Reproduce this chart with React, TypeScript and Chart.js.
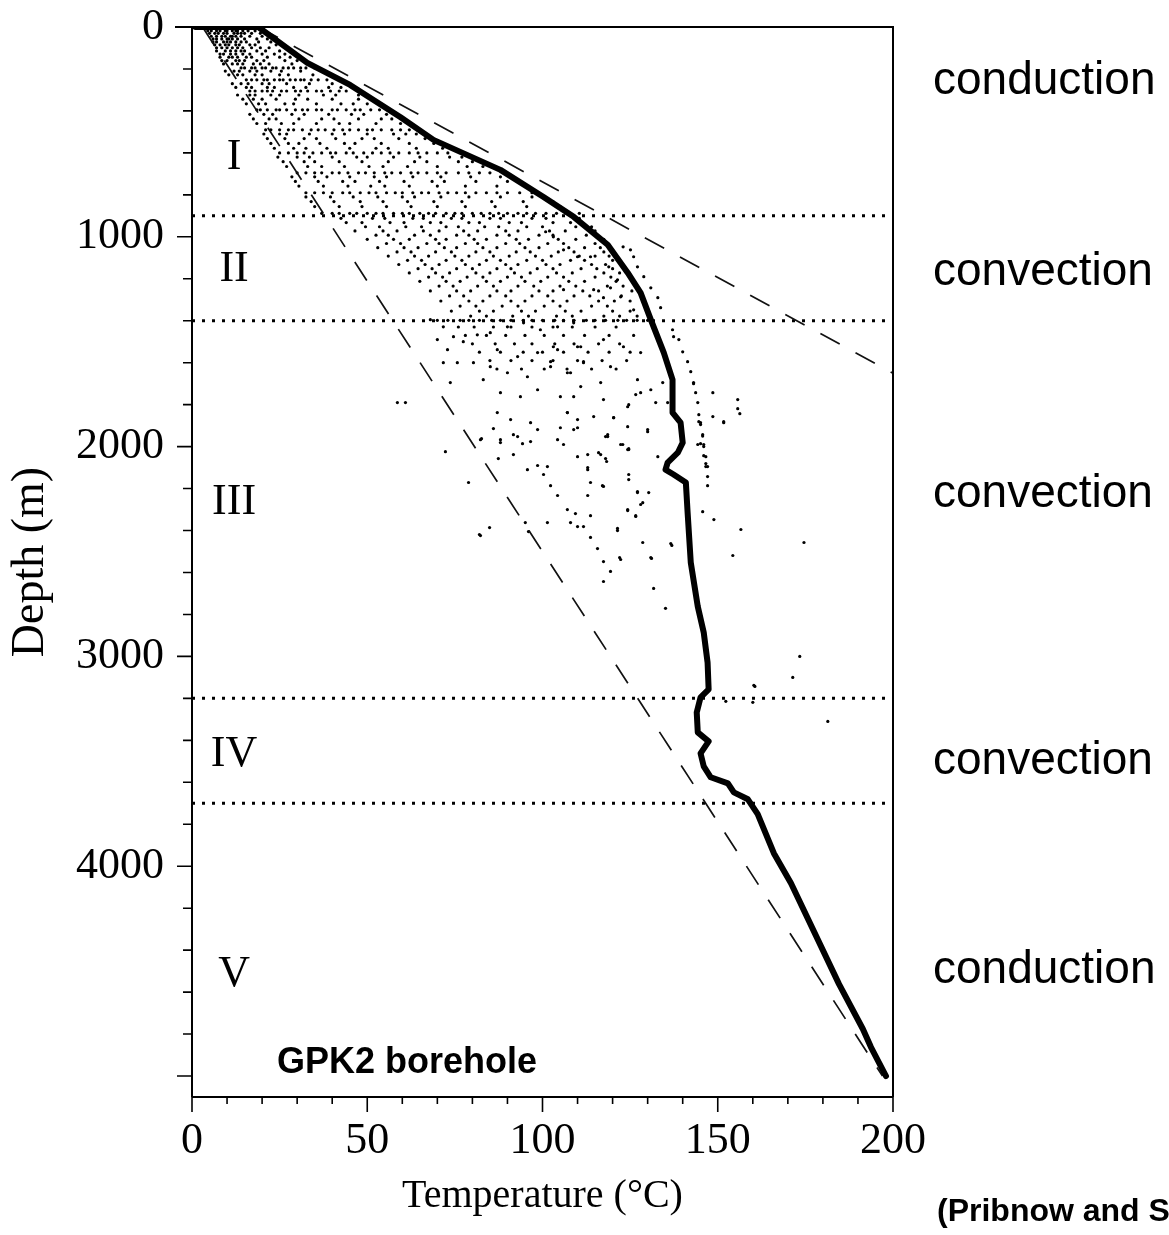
import React, { useEffect, useRef } from 'react';
import { Chart, registerables } from 'chart.js';

Chart.register(...registerables);

// ---------- data ----------
const X_LABELED_TICKS = [0, 50, 100, 150, 200];
const Y_LABELED_TICKS = [0, 1000, 2000, 3000, 4000, 5000];
const ZONE_BOUNDARY_DEPTHS = [900, 1400, 3200, 3700];
const ZONE_NAMES = ['I', 'II', 'III', 'IV', 'V'];
const ZONE_NAME_DEPTHS = [620, 1157, 2267, 3467, 4514];
const ZONE_NAME_TEMP = 12;
const HEAT_MODES = ['conduction', 'convection', 'convection', 'convection', 'conduction'];

// measured temperature log (°C) vs depth (m)
const profileTemp = [1, 18.9, 32.9, 45.1, 59.4, 68.9, 88.0, 100.3, 108.9, 118.6, 124.3, 128.0, 130.9, 134.6, 137.1, 137.1, 139.4, 140.0, 138.6, 135.7, 135.1, 137.4, 140.9, 141.4, 142.3, 144.3, 146.0, 147.1, 147.4, 145.1, 144.0, 144.3, 147.4, 145.1, 146.0, 148.0, 152.9, 154.6, 158.6, 161.4, 166.0, 170.9, 184.6, 191.4, 193.7, 198.0];
const profileDepth = [0, 0, 171, 276, 429, 538, 681, 810, 905, 1038, 1171, 1267, 1395, 1552, 1681, 1838, 1886, 1981, 2029, 2076, 2110, 2133, 2171, 2314, 2552, 2762, 2886, 3029, 3157, 3195, 3267, 3362, 3405, 3462, 3524, 3576, 3605, 3648, 3681, 3752, 3938, 4081, 4562, 4776, 4862, 5000];

// conductive gradients (dashed)
const upperGradientTemp = [19, 200];
const upperGradientDepth = [0, 1650];
const lowerGradientTemp = [3, 197];
const lowerGradientDepth = [0, 5000];

// scattered temperature measurements, rows of [depth, temperatures]
const scatterRows: [number, number[]][] = [
  [6, [3.5, 5, 6, 7.5, 8, 9, 10.5, 11, 12, 13.5, 14, 15, 16.5, 17.5]],
  [18, [4.5, 5.5, 7, 8, 9.5, 10, 11.5, 12.5, 13, 14.5, 16, 18]],
  [30, [5, 6.5, 7.5, 9, 10, 12, 13, 14, 15, 17, 19.5]],
  [44, [5.5, 7, 8.5, 9.5, 11, 11.5, 12.5, 14, 16.5, 20]],
  [57, [6, 7, 8.5, 10, 10.5, 11.5, 13, 15, 18.5, 21.5]],
  [71, [6, 7, 9, 10, 11, 12.5, 14, 15.5, 19, 22.5]],
  [85, [6.5, 8, 9.5, 10.5, 12.5, 13.5, 16.5, 18, 24]],
  [99, [7, 8.5, 10, 11.5, 13, 14.5, 17, 19.5, 22]],
  [114, [7, 9.5, 11, 12.5, 14, 15, 18.5, 21, 25]],
  [129, [8, 9, 11, 12.5, 14.5, 16.5, 20, 23.5, 26.5]],
  [144, [8, 10.5, 11.5, 13, 15.5, 17, 21.5, 25, 28]],
  [160, [8.5, 10, 12.5, 13.5, 15, 18.5, 20.5, 26.5, 30]],
  [176, [9, 11.5, 13, 14.5, 17.5, 19.5, 22, 28.5]],
  [195, [14, 15, 17, 18, 20, 21, 23, 24, 26, 27.5, 29, 31, 32.5, 35]],
  [210, [9.5, 12, 13.5, 16.5, 18.5, 22.5, 25.5, 31]],
  [228, [10.5, 13, 14.5, 18, 20, 25, 27.5, 34.5]],
  [252, [15.5, 17, 18.5, 20.5, 21.5, 23.5, 25, 26, 28, 29.5, 31, 32, 34, 36, 38.5]],
  [270, [11.5, 14, 16, 20, 22, 27, 33.5, 40]],
  [288, [12.5, 15.5, 17, 21.5, 23.5, 29, 32.5, 39, 42.5]],
  [305, [16.5, 18, 20, 21.5, 23, 25.5, 27, 29.5, 31, 33, 35.5, 37, 39.5, 42, 44]],
  [324, [13, 16.5, 18, 22.5, 25, 30.5, 37.5, 41, 47.5]],
  [344, [14.5, 17.5, 20, 24, 29.5, 33, 40, 47.5]],
  [366, [15.5, 19, 21, 26.5, 29, 35.5, 42.5, 46, 50]],
  [395, [18.5, 19.5, 21.5, 24, 25, 27, 29.5, 31.5, 33, 35.5, 37, 40, 41.5, 44, 46.5, 48, 51, 53.5]],
  [416, [16.5, 20.5, 23, 28.5, 32, 39, 45.5, 49, 55.5]],
  [438, [17.5, 22, 24, 30.5, 37, 40.5, 47.5, 54, 57]],
  [460, [18.5, 21, 25.5, 29, 35.5, 42, 45, 52.5, 59.5]],
  [490, [21, 22.5, 25, 27.5, 29, 31.5, 34, 36, 38, 40.5, 43, 45, 47.5, 50, 51.5, 54, 57, 59.5, 62]],
  [510, [20.5, 25, 27, 33.5, 40, 43.5, 50, 57.5, 61, 64]],
  [532, [21.5, 26.5, 32, 35.5, 41, 48.5, 52, 59, 66.5]],
  [555, [22.5, 27.5, 30.5, 36.5, 43.5, 46.5, 54, 62, 69]],
  [578, [23.5, 29, 32.5, 38.5, 45, 52.5, 56, 64, 71.5]],
  [600, [25, 27.5, 30, 32, 34.5, 37, 39.5, 41, 44, 46, 49, 51.5, 54, 56.5, 59, 62, 64.5, 67, 70, 73]],
  [620, [24.5, 30, 33.5, 40, 47, 50, 57.5, 65, 73.5, 77]],
  [642, [26, 32, 35, 42, 48.5, 56, 63.5, 67, 76, 80]],
  [665, [27, 33, 37, 43.5, 50.5, 54.5, 61.5, 70, 78.5, 83]],
  [695, [30, 32.5, 35, 37, 40, 42, 44.5, 47.5, 49.5, 52, 55, 57, 59.5, 62.5, 64.5, 67, 70, 72.5, 76, 79, 82, 85]],
  [714, [28.5, 35, 38.5, 45, 52, 55.5, 63, 71, 79.5, 88]],
  [736, [29.5, 36, 43, 46.5, 53.5, 60.5, 68.5, 72, 81, 90]],
  [758, [30.5, 37.5, 44.5, 51, 55, 62, 70, 78, 87, 95.5]],
  [790, [32.5, 35, 37.5, 40, 43, 45, 48, 50.5, 52.5, 55.5, 58, 60, 63, 65.5, 67.5, 70.5, 73, 75.5, 78, 81, 84, 87, 90, 93.5, 97]],
  [810, [32.5, 39.5, 46, 53, 60, 63.5, 71, 79, 88, 97]],
  [832, [34, 40.5, 48, 54.5, 61.5, 69, 77, 85.5, 94.5, 103]],
  [856, [35, 42, 48.5, 55.5, 62.5, 70, 78, 86.5, 95.5, 105]],
  [888, [37, 40, 42, 45, 47, 50, 52.5, 54.5, 57.5, 60, 62, 65, 67.5, 69.5, 72.5, 75, 77, 80, 82.5, 85, 87.5, 90, 93, 95.5, 98, 101, 104, 107, 110.5]],
  [912, [42.5, 51.5, 55, 63, 66, 74, 77, 85, 88, 97, 101, 110.5]],
  [932, [44, 48.5, 56.5, 60.5, 68, 71, 79, 82, 90.5, 94, 103, 108]],
  [952, [49.5, 53.5, 61, 65.5, 72.5, 76, 83.5, 87.5, 95.5, 100, 109.5, 114]],
  [972, [46.5, 54.5, 58.5, 66, 70.5, 77.5, 81.5, 89.5, 93, 102, 106.5, 115]],
  [992, [52.5, 56, 63.5, 68, 75.5, 79, 87, 90.5, 99, 103, 112.5]],
  [1012, [50, 57.5, 62, 69.5, 72.5, 80.5, 84, 92.5, 96, 104.5, 109.5, 117.5]],
  [1032, [55.5, 59.5, 67, 70.5, 78, 81.5, 89.5, 93.5, 101.5, 106, 115]],
  [1052, [53, 60.5, 64.5, 72, 75.5, 83, 87, 95, 99, 107.5, 112, 116.5]],
  [1072, [58.5, 62.5, 69.5, 74, 81, 85, 92.5, 96.5, 104.5, 109, 117.5]],
  [1092, [56, 63.5, 67.5, 75, 79, 86, 90.5, 98, 102.5, 110.5, 115, 119]],
  [1112, [61.5, 65.5, 72.5, 77, 84, 88, 95.5, 100, 108, 112, 120]],
  [1132, [59, 66.5, 70.5, 78, 82, 89.5, 93, 101, 105, 114, 118]],
  [1152, [64.5, 68.5, 75.5, 80, 87, 91, 98.5, 103, 111, 115.5, 120]],
  [1172, [62, 69.5, 73.5, 81, 85, 92, 96.5, 104, 108.5, 117.5, 122]],
  [1192, [67.5, 71.5, 78.5, 83, 90, 94, 101.5, 106, 115, 119.5]],
  [1212, [65, 72.5, 76.5, 84, 88, 95, 99.5, 107.5, 112, 121]],
  [1235, [70.5, 74.5, 81.5, 86, 93, 97.5, 105, 109.5, 118.5, 123]],
  [1258, [68, 75.5, 79.5, 87, 91, 99, 103, 111.5, 116, 125.5]],
  [1282, [73.5, 77.5, 85, 89.5, 97, 101.5, 109, 113.5, 122.5]],
  [1306, [71, 79, 83, 91, 95, 103, 107, 116, 120.5, 125]],
  [1330, [76.5, 81, 88.5, 93, 100.5, 105, 114, 118.5]],
  [1354, [74, 82, 86, 94, 98, 106.5, 111, 120, 125]],
  [1378, [79.5, 84, 91.5, 96, 104, 108.5, 117.5, 122, 127]],
  [1398, [70, 73, 76.5, 79, 82, 85.5, 88, 91, 94.5, 97, 100, 103.5, 106, 109, 112.5, 115, 118, 121.5, 124, 127, 130]],
  [1430, [76, 80.5, 86, 91, 97, 103, 108.5, 115, 121]],
  [1470, [78, 84, 89.5, 95, 100.5, 106, 112, 119, 126]],
  [1510, [80, 86.5, 92, 97, 103.5, 109, 116, 122]],
  [1550, [82, 88, 94.5, 100, 106, 113, 119, 125]],
  [1590, [85, 91, 97, 103, 110, 117, 124]],
  [1630, [87, 94, 100.5, 107, 114, 121]],
];

// individual scattered measurements [temperature, depth]
const scatterPoints: [number, number][] = [
  [68, 1395], [71.7, 1429], [74.6, 1476], [70, 1490], [72.9, 1538], [77.4, 1500], [81.4, 1467], [85.1, 1457],
  [90, 1429], [94.6, 1410], [99.4, 1443], [104.3, 1429], [108.9, 1410], [87.1, 1538], [92.9, 1571], [98.6, 1552],
  [104.3, 1538], [110, 1524], [71.7, 1600], [75.7, 1600], [80.3, 1600], [85.1, 1619], [90, 1648], [95.7, 1667],
  [102.3, 1619], [108, 1648], [111.7, 1600], [73.7, 1695], [83.1, 1681], [88, 1743], [93.7, 1762], [98.6, 1729],
  [105.1, 1762], [110.9, 1714], [58.6, 1790], [60.9, 1790], [87.1, 1838], [90.9, 1871], [96.6, 1886], [107.1, 1838],
  [110, 1871], [82.3, 1967], [88, 1981], [92.9, 1952], [98.6, 1919], [104.3, 1967], [108.9, 1919],
  [100.9, 976], [103.1, 1000], [106, 1062], [110, 1095], [113.7, 1095], [118.9, 1143], [121.4, 1205], [106, 1252],
  [114.6, 1252], [119.4, 1243], [117.4, 1290], [122.3, 1286], [126, 1348], [103.1, 1524], [110.9, 1524], [117.4, 1490],
  [123.1, 1524], [128, 1552], [102.3, 1595], [111.7, 1595], [119.4, 1619], [107.1, 1648], [116.6, 1695], [127.1, 1681],
  [108.9, 1762], [117.4, 1776], [130.9, 1729], [124.3, 1810], [107.1, 1838], [114.6, 1857], [120.3, 1862], [105.1, 1910],
  [110, 1910], [118.6, 1952], [130, 1919], [122.3, 1990], [106, 1990], [112.9, 2038], [116.6, 2038], [124.3, 2014],
  [132.9, 2048], [101.4, 2095], [110, 2048], [112.9, 2110], [124.6, 2133],
  [120.3, 1862], [118, 1952], [122.9, 1990], [124.6, 2014], [118.3, 2071], [130, 1929], [126.6, 1752], [124.6, 1800],
  [128, 1743], [132.3, 1790], [135.7, 1790], [134.3, 1695], [143.1, 1695], [143.7, 1743], [148.6, 1743], [144.3, 1790],
  [144.6, 1848], [145.1, 1895], [145.7, 1943], [144.3, 1990], [146, 1990], [146, 2043], [146.6, 2095], [147.1, 2143],
  [147.1, 2186], [148.6, 1857], [151.7, 1886], [155.7, 1776], [155.7, 1819], [156.3, 1843], [124.6, 2157], [117.4, 2190],
  [127.1, 2219], [130.3, 2219], [128, 2276], [124.3, 2305], [126.6, 2333], [145.7, 2310], [148.9, 2348], [156.6, 2395],
  [121.4, 2400], [128.6, 2457], [136.9, 2471], [154.3, 2519], [174.6, 2457], [117.4, 2548], [122.3, 2538], [131.1, 2533],
  [119.4, 2595], [117.4, 2643], [131.7, 2676], [135.1, 2771], [173.4, 3000], [171.4, 3100], [160.6, 3143], [152.3, 3214],
  [160, 3219], [181.4, 3310],
  [72.3, 2024], [78.9, 2171], [82, 2419], [84.9, 2386], [82.6, 1962], [86, 1914], [88, 1967], [91.7, 1943], [94.3, 1986],
  [96.6, 1976], [87.4, 2057], [91.7, 2038], [95.7, 2110], [98.6, 2090], [100.3, 2133], [102.3, 2186], [104.3, 2233],
  [107.1, 2300], [109.4, 2319], [110, 2381], [111.7, 2381], [113.7, 2329], [112.9, 2233], [112.9, 2100], [113.7, 2171],
  [117.1, 2186], [116, 2029], [118, 2057], [118.6, 1943], [113.7, 2433], [115.7, 2486], [122, 2529], [121.4, 2390],
  [124.3, 2300], [126.6, 2329], [128.6, 2267], [127.1, 2214], [124.6, 2010], [124.3, 1905], [130.9, 2529], [136.6, 2462],
  [145.1, 1986], [146.6, 2081], [144.6, 1881], [151.7, 1881], [160.3, 3138], [82.3, 2424], [95.1, 2362], [96, 2405],
  [101.4, 2362], [108, 2362],
  [126, 1095], [127.1, 1143], [128.9, 1190], [130.9, 1243], [132.9, 1290], [133.7, 1338], [137.1, 1443], [137.4, 1476],
  [138.9, 1490], [140, 1548], [141.4, 1595], [142.3, 1643], [143.1, 1700], [145.1, 1886], [145.7, 1950], [146, 2000],
  [146.6, 2048], [147.1, 2095], [123, 1048], [125.1, 1062],
];

// ---------- layout constants (pixels) ----------
const W = 1169;
const H = 1235;
const PLOT_LEFT = 192;
const PLOT_RIGHT = 893;
const PLOT_TOP = 27;
const PLOT_BOTTOM = 1097;
const MODE_LABEL_CENTERS = [77, 268, 490, 757, 966];

const SERIF = '"Liberation Serif", "Times New Roman", Times, serif';
const SANS = '"Liberation Sans", Arial, Helvetica, sans-serif';

const framePlugin = {
  id: 'frame',
  afterDatasetsDraw(chart: any) {
    const { ctx, chartArea: a, scales } = chart;
    const x = scales.x;
    const y = scales.y;
    ctx.save();
    ctx.strokeStyle = '#000';
    ctx.lineWidth = 2;
    ctx.beginPath();
    ctx.moveTo(a.left, a.bottom);
    ctx.lineTo(a.left, a.top);
    ctx.moveTo(a.left - 17, a.top);
    ctx.lineTo(a.right, a.top);
    ctx.lineTo(a.right, a.bottom);
    ctx.moveTo(a.left, a.bottom);
    ctx.lineTo(a.right, a.bottom);
    ctx.stroke();

    ctx.lineWidth = 1.6;
    ctx.beginPath();
    for (let d = 0; d <= 5000; d += 200) {
      const py = y.getPixelForValue(d);
      const len = Y_LABELED_TICKS.includes(d) ? 15 : 9;
      ctx.moveTo(a.left - len, py);
      ctx.lineTo(a.left, py);
    }
    for (let t = 0; t <= 200; t += 10) {
      const px = x.getPixelForValue(t);
      const len = X_LABELED_TICKS.includes(t) ? 15 : 7;
      ctx.moveTo(px, a.bottom);
      ctx.lineTo(px, a.bottom + len);
    }
    ctx.stroke();

    ctx.fillStyle = '#000';
    ctx.font = `44px ${SERIF}`;
    ctx.textAlign = 'center';
    ctx.textBaseline = 'middle';
    ZONE_NAMES.forEach((name, i) => {
      ctx.fillText(name, x.getPixelForValue(ZONE_NAME_TEMP), y.getPixelForValue(ZONE_NAME_DEPTHS[i]));
    });
    ctx.restore();
  },
};

function lineData(ts: number[], ds: number[]) {
  return ts.map((t, i) => ({ x: t, y: ds[i] }));
}

export default function App() {
  const canvasRef = useRef<HTMLCanvasElement | null>(null);

  useEffect(() => {
    const canvas = canvasRef.current;
    if (!canvas) return;

    const scatter: { x: number; y: number }[] = [];
    scatterRows.forEach(([d, temps]) => temps.forEach((t) => scatter.push({ x: t, y: d })));
    scatterPoints.forEach(([t, d]) => scatter.push({ x: t, y: d }));

    const dotted = ZONE_BOUNDARY_DEPTHS.map((d) => ({
      data: [{ x: 0, y: d }, { x: 200, y: d }],
      showLine: true,
      borderColor: '#000',
      borderWidth: 3,
      borderDash: [3, 7],
      pointRadius: 0,
      order: 3,
    }));

    const chart = new Chart(canvas, {
      type: 'scatter',
      data: {
        datasets: [
          {
            data: lineData(profileTemp, profileDepth),
            showLine: true,
            borderColor: '#000',
            borderWidth: 6,
            borderJoinStyle: 'round',
            borderCapStyle: 'round',
            pointRadius: 0,
            tension: 0,
            order: 0,
          } as any,
          {
            data: lineData(upperGradientTemp, upperGradientDepth),
            showLine: true,
            borderColor: '#111',
            borderWidth: 1.7,
            borderDash: [22, 18],
            pointRadius: 0,
            order: 1,
          },
          {
            data: lineData(lowerGradientTemp, lowerGradientDepth),
            showLine: true,
            borderColor: '#111',
            borderWidth: 1.7,
            borderDash: [22, 18],
            pointRadius: 0,
            order: 1,
          },
          ...dotted,
          {
            data: scatter,
            showLine: false,
            pointRadius: 1.6,
            pointBorderWidth: 0,
            backgroundColor: '#000',
            borderColor: '#000',
            order: 5,
          },
        ] as any,
      },
      options: {
        responsive: false,
        animation: false,
        events: [],
        layout: { padding: { left: 0, top: PLOT_TOP, right: W - PLOT_RIGHT, bottom: 0 } },
        plugins: { legend: { display: false }, tooltip: { enabled: false } },
        scales: {
          x: {
            type: 'linear',
            position: 'bottom',
            min: 0,
            max: 200,
            grid: { display: false, drawTicks: false },
            border: { display: false },
            ticks: {
              stepSize: 10,
              autoSkip: false,
              maxRotation: 0,
              padding: 18,
              color: '#000',
              font: { family: SERIF, size: 44 },
              callback: (v: any) => (X_LABELED_TICKS.includes(Number(v)) ? String(v) : ''),
            },
            title: {
              display: true,
              text: 'Temperature (°C)',
              color: '#000',
              font: { family: SERIF, size: 40 },
              padding: { top: 0, bottom: 15 },
            },
            afterFit: (s: any) => {
              s.height = H - PLOT_BOTTOM;
              s.paddingLeft = 0;
              s.paddingRight = 0;
            },
          },
          y: {
            type: 'linear',
            position: 'left',
            reverse: true,
            min: 0,
            max: 5100,
            grid: { display: false, drawTicks: false },
            border: { display: false },
            ticks: {
              stepSize: 200,
              autoSkip: false,
              padding: 28,
              color: '#000',
              font: { family: SERIF, size: 44 },
              callback: (v: any) => (Y_LABELED_TICKS.includes(Number(v)) ? String(v) : ''),
            },
            title: {
              display: true,
              text: 'Depth (m)',
              color: '#000',
              font: { family: SERIF, size: 46 },
              padding: { top: 3, bottom: 0 },
            },
            afterFit: (s: any) => {
              s.width = PLOT_LEFT;
              s.paddingTop = 0;
              s.paddingBottom = 0;
            },
          },
        },
      } as any,
      plugins: [framePlugin],
    });

    return () => chart.destroy();
  }, []);

  const textBase: React.CSSProperties = {
    position: 'absolute',
    margin: 0,
    lineHeight: 1,
    whiteSpace: 'nowrap',
    color: '#000',
  };

  return (
    <div style={{ position: 'absolute', left: 0, top: 0, width: W, height: H, overflow: 'hidden', background: '#fff' }}>
      <canvas ref={canvasRef} width={W} height={H} style={{ position: 'absolute', left: 0, top: 0, width: W, height: H }} />
      {HEAT_MODES.map((m, i) => (
        <div key={i} style={{ ...textBase, left: 933, top: MODE_LABEL_CENTERS[i] - 22, fontFamily: SANS, fontSize: 46 }}>
          {m}
        </div>
      ))}
      <div style={{ ...textBase, left: 277, top: 1043, fontFamily: SANS, fontWeight: 'bold', fontSize: 36 }}>GPK2 borehole</div>
      <div style={{ ...textBase, left: 937, top: 1194, fontFamily: SANS, fontWeight: 'bold', fontSize: 32 }}>(Pribnow and S</div>
    </div>
  );
}
